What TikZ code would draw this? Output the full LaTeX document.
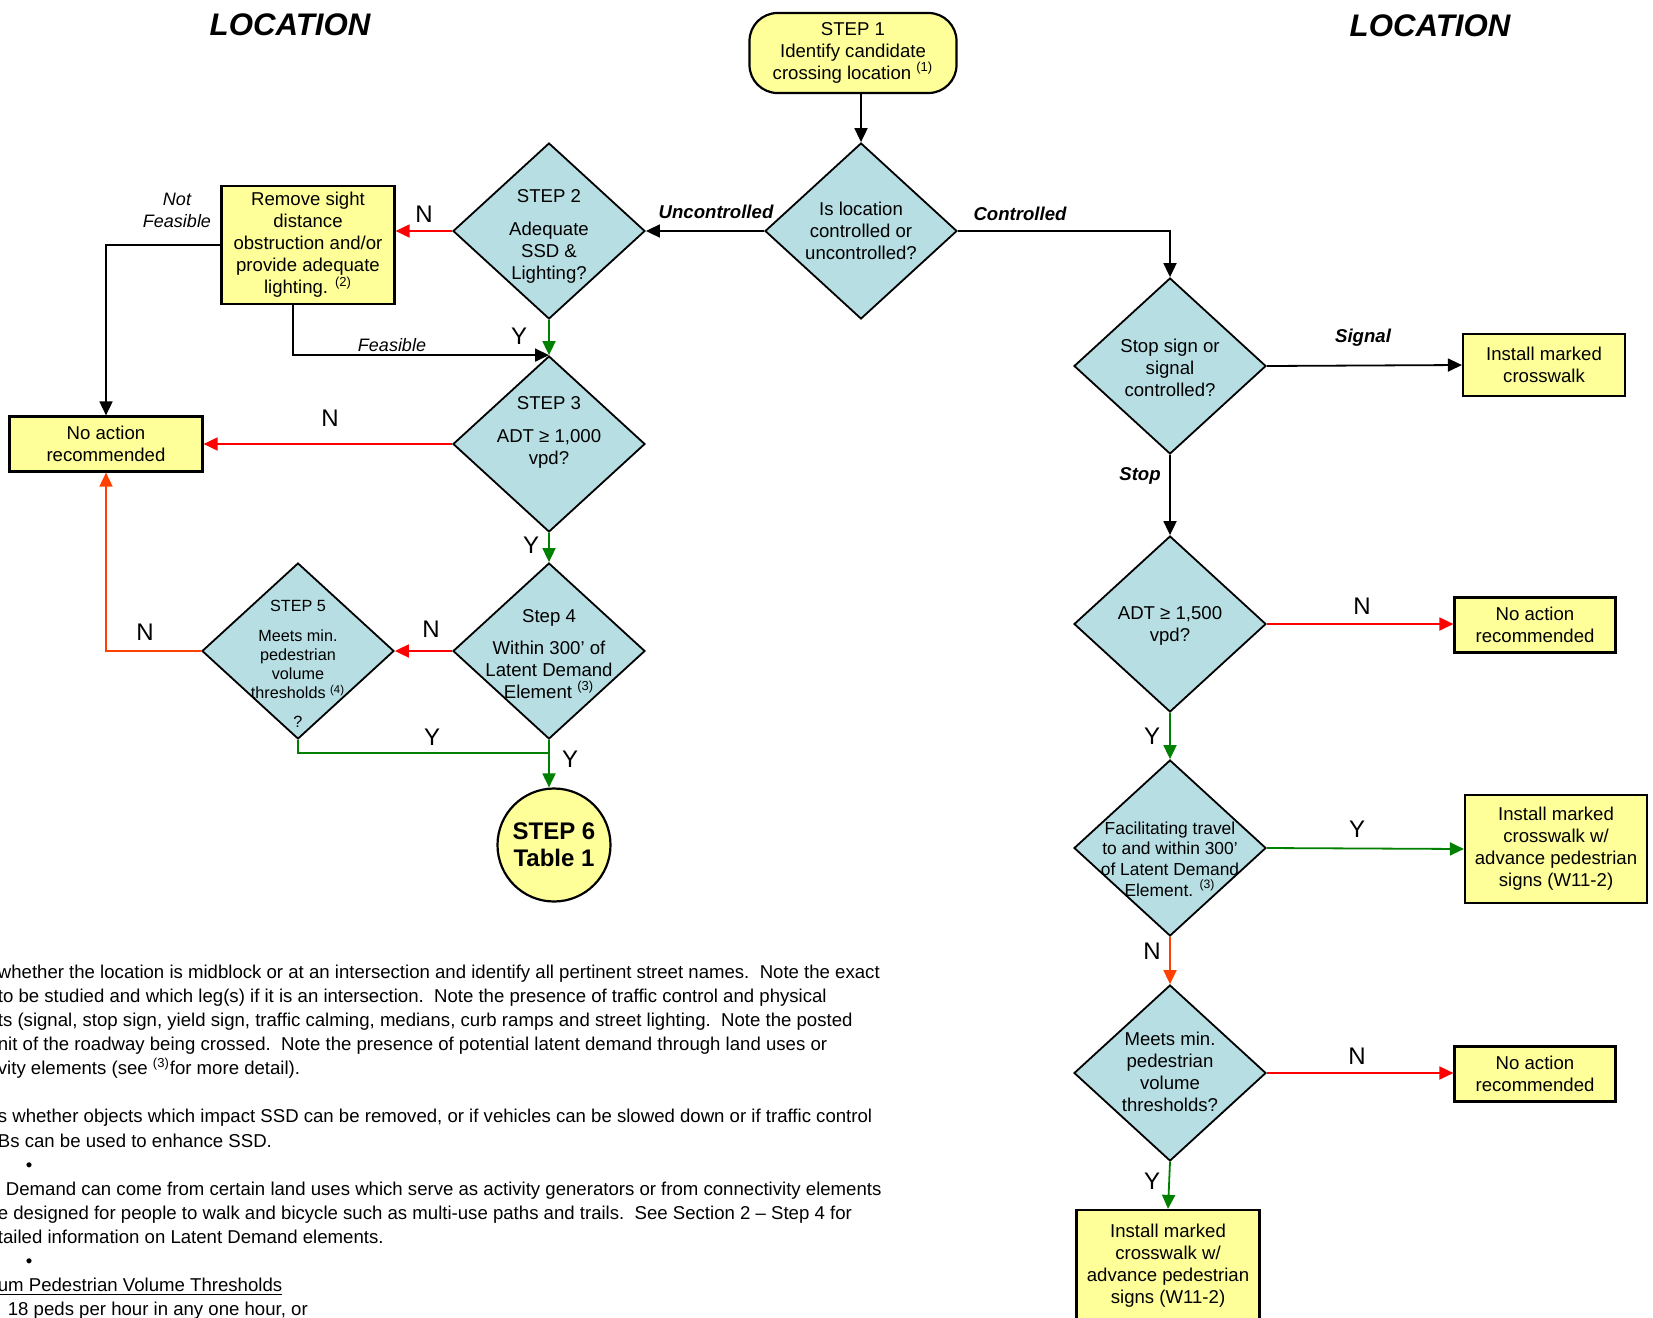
\documentclass[tikz,border=0pt]{standalone}
\usepackage{fontspec}
\setmainfont{Liberation Sans}
\usetikzlibrary{arrows.meta, shapes.geometric, calc}
\definecolor{MyYellow}{HTML}{FFFF99}
\definecolor{MyTeal}{HTML}{B7DEE3}
\definecolor{MyRed}{HTML}{FF0000}
\definecolor{MyOrange}{HTML}{FF4000}
\definecolor{MyGreen}{HTML}{008000}

\begin{document}
\begin{tikzpicture}[x=0.5pt, y=-0.5pt, line width=0.9pt,
	decision/.style={diamond, draw, fill=MyTeal, minimum width=96pt, minimum height=88pt, inner sep=0pt},
	action/.style={rectangle, draw, fill=MyYellow, line width=1.1pt, inner sep=0pt, align=center, font=\fontsize{9.3}{11}\selectfont},
	dtext/.style={align=center, inner sep=0pt, font=\fontsize{9.3}{11}\selectfont},
	yn/.style={inner sep=0pt, font=\fontsize{12}{14}\selectfont},
	branch/.style={inner sep=0pt, font=\bfseries\itshape\fontsize{9.3}{11}\selectfont},
	title/.style={inner sep=0pt, font=\bfseries\itshape\fontsize{15.6}{18}\selectfont},
	flow/.style={-{Triangle[length=7pt,width=6.5pt]}}]
	\useasboundingbox (0,0) rectangle (1653,1317);
	\fill[white] (0,0) rectangle (1653,1317);
	\clip (0,0) rectangle (1653,1317);
	
	\node[title] (locL) at (290,25) {LOCATION};
	\node[title] (locR) at (1430,26) {LOCATION};
	%
	\node[action, rounded corners=14pt, minimum width=103.5pt, minimum height=40pt] (step1) at (853,53) {STEP 1\\Identify candidate\\crossing location \textsuperscript{(1)}};
	\node[decision] (qctrl) at (861,231) {};
	\node[dtext] (qctrltxt) at (861,231) {Is location\\controlled or\\uncontrolled?};
	%
	\node[decision] (step2) at (549,231) {};
	\node[dtext] (step2txt) at (549,236) {STEP 2\\[5.5pt]Adequate\\SSD \&\\Lighting?};
	\node[action, minimum width=86.5pt, minimum height=59pt] (remove) at (308,245) {Remove sight\\distance\\obstruction and/or\\provide adequate\\lighting. \textsuperscript{(2)}};
	\node[action, minimum width=96.5pt, minimum height=27.5pt] (noactL) at (106,444) {No action\\recommended};
	%
	\node[decision] (step3) at (549,444) {};
	\node[dtext] (step3txt) at (549,432) {STEP 3\\[5.5pt]ADT ≥ 1,000\\vpd?};
	\node[decision] (step4) at (549,651) {};
	\node[dtext] (step4txt) at (549,654) {Step 4\\[5pt]Within 300’ of\\Latent Demand\\Element \textsuperscript{(3)}};
	\node[decision] (step5) at (298,651) {};
	\node[dtext, font=\fontsize{8.1}{9.5}\selectfont] (step5txt) at (298,664) {STEP 5\\[5.5pt]Meets min.\\pedestrian\\volume\\thresholds \textsuperscript{(4)}\\[5pt]?};
	\node[circle, draw, fill=MyYellow, line width=1.1pt, minimum size=56.5pt, inner sep=0pt, align=center, font=\bfseries\fontsize{12}{13.5}\selectfont] (step6) at (554,845) {STEP 6\\Table 1};
	%
	\node[decision] (stopq) at (1170,366) {};
	\node[dtext] (stopqtxt) at (1170,368) {Stop sign or\\signal\\controlled?};
	\node[action, minimum width=81pt, minimum height=31pt] (signal) at (1544,365) {Install marked\\crosswalk};
	\node[decision] (adt15) at (1170,624) {};
	\node[dtext] (adt15txt) at (1170,626) {ADT ≥ 1,500\\vpd?};
	\node[action, minimum width=80.5pt, minimum height=27.5pt] (noact1) at (1535,625) {No action\\recommended};
	\node[decision] (facil) at (1170,848) {};
	\node[dtext, font=\fontsize{8.7}{10.4}\selectfont] (faciltxt) at (1170,859) {Facilitating travel\\to and within 300’\\of Latent Demand\\Element. \textsuperscript{(3)}};
	\node[action, minimum width=91pt, minimum height=54pt] (adv1) at (1556,849) {Install marked\\crosswalk w/\\advance pedestrian\\signs (W11-2)};
	\node[decision] (meets) at (1170,1073) {};
	\node[dtext] (meetstxt) at (1170,1072) {Meets min.\\pedestrian\\volume\\thresholds?};
	\node[action, minimum width=80.5pt, minimum height=27.5pt] (noact2) at (1535,1074) {No action\\recommended};
	\node[action, minimum width=91.5pt, minimum height=56pt] (adv2) at (1168,1266) {Install marked\\crosswalk w/\\advance pedestrian\\signs (W11-2)};
	%
	\draw[flow] (step1.south -| qctrl.north) -- (qctrl.north);
	\draw[flow] (qctrl.west) -- (step2.east);
	\draw[flow] (qctrl.east) -| (stopq.north);
	\draw[flow, MyRed] (step2.west) -- (step2.west -| remove.east);
	\draw[flow] (remove.west) -| (noactL.north);
	\draw[flow] ([xshift=-7.5pt]remove.south) |- (step3.north);
	\draw[flow, MyGreen] (step2.south) -- (step3.north);
	\draw[flow, MyRed] (step3.west) -- (step3.west -| noactL.east);
	\draw[flow, MyGreen] (step3.south) -- (step4.north);
	\draw[flow, MyRed] (step4.west) -- (step5.east);
	\draw[flow, MyOrange] (step5.west) -| (noactL.south);
	\coordinate (join) at (549,753);
	\draw[MyGreen] (step5.south) |- (join);
	\draw[flow, MyGreen] (step4.south) -- (step4.south |- step6.north);
	%
	\draw[flow] (stopq.east) -- (signal.west);
	\draw[flow] (stopq.south) -- (adt15.north);
	\draw[flow, MyRed] (adt15.east) -- (adt15.east -| noact1.west);
	\draw[flow, MyGreen] (adt15.south) -- (facil.north);
	\draw[flow, MyGreen] (facil.east) -- (adv1.west);
	\draw[flow, MyOrange] (facil.south) -- (meets.north);
	\draw[flow, MyRed] (meets.east) -- (meets.east -| noact2.west);
	\draw[flow, MyGreen] (meets.south) -- (adv2.north);
	%
	\node[branch] (lunc) at (716,212) {Uncontrolled};
	\node[branch] (lctrl) at (1020,214) {Controlled};
	\node[branch] (lsig) at (1363,338) {Signal};
	\node[branch] (lstop) at (1140,476) {Stop};
	\node[dtext, font=\itshape\fontsize{9}{11}\selectfont] (lnotf) at (177,210) {Not\\Feasible};
	\node[dtext, font=\itshape\fontsize{9}{11}\selectfont] (lfeas) at (392,345) {Feasible};
	%
	\node[yn] (n2) at (424,214) {N};
	\node[yn] (y2) at (519,336) {Y};
	\node[yn] (n3) at (330,418) {N};
	\node[yn] (y3) at (531,545) {Y};
	\node[yn] (n4) at (431,629) {N};
	\node[yn] (n5) at (145,632) {N};
	\node[yn] (y5) at (432,737) {Y};
	\node[yn] (y4) at (570,759) {Y};
	\node[yn] (nadt) at (1362,606) {N};
	\node[yn] (yadt) at (1152,736) {Y};
	\node[yn] (yfac) at (1357,829) {Y};
	\node[yn] (nfac) at (1152,951) {N};
	\node[yn] (nmeet) at (1357,1056) {N};
	\node[yn] (ymeet) at (1152,1181) {Y};
	%
	\node[anchor=north west, align=left, inner sep=0pt, font=\fontsize{9.3}{12.05}\selectfont] (notes) at (-3,964) {%
		whether the location is midblock or at an intersection and identify all pertinent street names.\ \ Note the exact\\
		to be studied and which leg(s) if it is an intersection.\ \ Note the presence of traffic control and physical\\
		ts (signal, stop sign, yield sign, traffic calming, medians, curb ramps and street lighting.\ \ Note the posted\\
		nit of the roadway being crossed.\ \ Note the presence of potential latent demand through land uses or\\
		vity elements (see \textsuperscript{(3)}for more detail).\\
		\mbox{}\\
		s whether objects which impact SSD can be removed, or if vehicles can be slowed down or if traffic control\\
		Bs can be used to enhance SSD.\\
		\hspace*{14pt}•\\
		\hspace*{4pt}Demand can come from certain land uses which serve as activity generators or from connectivity elements\\
		e designed for people to walk and bicycle such as multi-use paths and trails.\ \ See Section 2 – Step 4 for\\
		tailed information on Latent Demand elements.\\
		\hspace*{14pt}•\\
		\underline{um Pedestrian Volume Thresholds}\\
		\hspace*{5pt}18 peds per hour in any one hour, or};
\end{tikzpicture}
\end{document}
